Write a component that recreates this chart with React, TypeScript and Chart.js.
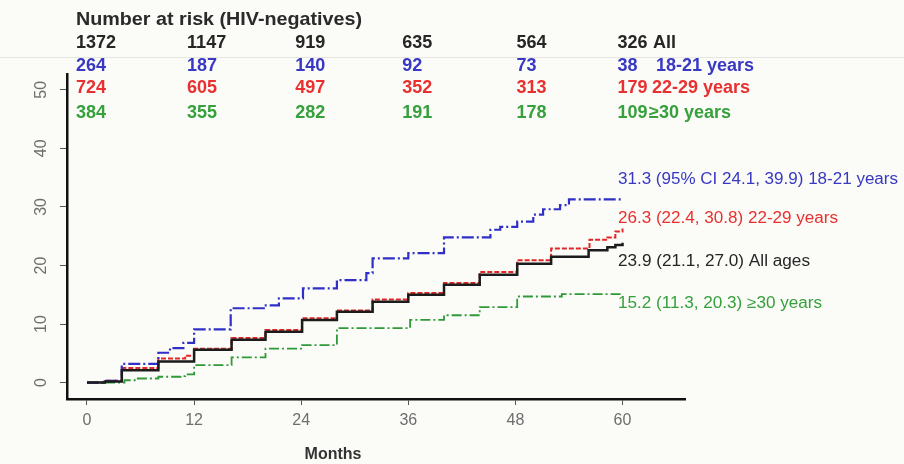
import React, { useEffect, useRef } from "react";
import { Chart, registerables } from "chart.js";

Chart.register(...registerables);

// ---- Data (cumulative incidence, %) ----
const allMonths = [0, 2, 3.9, 8, 12, 16.2, 20, 24.1, 28, 32, 36, 40, 44, 48.2, 52, 56.2, 58.3, 59.2, 60];
const allValues = [0, 0.2, 2.1, 3.6, 5.6, 7.3, 8.7, 10.7, 12.1, 13.8, 15.0, 16.7, 18.4, 20.3, 21.5, 22.6, 23.1, 23.5, 23.9];

const age18Months = [0, 1.8, 3.9, 8, 9.3, 10.8, 12, 16.1, 19.8, 21.5, 24.2, 28, 31.3, 32, 36, 40, 45.2, 46.3, 48.2, 50, 51.1, 53, 54, 60];
const age18Values = [0, 0.3, 3.2, 5.1, 5.9, 6.8, 9.1, 12.7, 13.2, 14.4, 16.1, 17.5, 18.7, 21.2, 22.1, 24.8, 26.1, 26.6, 27.5, 28.7, 29.6, 30.3, 31.3, 31.3];

const age22Months = [0, 2, 3.9, 8, 11, 12, 16.2, 20, 24.1, 28, 32, 36, 40, 44, 48.2, 52, 56.3, 58.3, 59.2, 60];
const age22Values = [0, 0.3, 2.5, 4.1, 4.6, 5.8, 7.6, 9.0, 11.0, 12.3, 14.2, 15.3, 17.0, 18.9, 20.9, 22.9, 24.4, 24.8, 25.8, 26.3];

const age30Months = [0, 4.2, 5.5, 8, 10.5, 11, 12, 16.2, 20, 24.1, 28, 36.2, 40, 44, 48.2, 53.2, 60];
const age30Values = [0, 0.4, 0.7, 1.0, 1.1, 1.4, 3.0, 4.3, 5.8, 6.4, 9.3, 10.7, 11.5, 12.9, 14.7, 15.1, 15.2];

const xTickValues = [0, 12, 24, 36, 48, 60];
const yTickValues = [0, 10, 20, 30, 40, 50];

// Number at risk table
const riskTitle = "Number at risk (HIV-negatives)";
const riskAll = [1372, 1147, 919, 635, 564, 326];
const risk18 = [264, 187, 140, 92, 73, 38];
const risk22 = [724, 605, 497, 352, 313, 179];
const risk30 = [384, 355, 282, 191, 178, 109];
const riskGroupLabels = ["All", "18-21 years", "22-29 years", "\u226530 years"];

// End-of-curve annotations
const endLabels = [
  "31.3 (95% CI 24.1, 39.9) 18-21 years",
  "26.3 (22.4, 30.8) 22-29 years",
  "23.9 (21.1, 27.0) All ages",
  "15.2 (11.3, 20.3) \u226530 years",
];
const xTitle = "Months";

// ---- Styles / layout ----
const COLORS = {
  all: "#1c1c1c",
  a18: "#3030c8",
  a22: "#e02828",
  a30: "#2f9a38",
};
const TEXT = {
  all: "#262626",
  a18: "#3838c4",
  a22: "#e83030",
  a30: "#36a03c",
};
const FONT = '"Liberation Sans", Arial, sans-serif';

const toPoints = (xs: number[], ys: number[]) => xs.map((x, i) => ({ x, y: ys[i] }));

function drawFitted(ctx: CanvasRenderingContext2D, text: string, x: number, y: number, font: string, color: string, width?: number) {
  ctx.save();
  ctx.font = font;
  ctx.fillStyle = color;
  ctx.textAlign = "left";
  ctx.textBaseline = "middle";
  const w = ctx.measureText(text).width;
  const sx = width ? width / w : 1;
  ctx.translate(x, y);
  ctx.scale(sx, 1);
  ctx.fillText(text, 0, 0);
  ctx.restore();
}

const overlayPlugin = {
  id: "overlay",
  beforeDraw(chart: any) {
    const ctx = chart.ctx as CanvasRenderingContext2D;
    ctx.save();
    ctx.fillStyle = "#fbfbf7";
    ctx.fillRect(0, 0, chart.width, chart.height);
    ctx.strokeStyle = "#e6e6e0";
    ctx.lineWidth = 1;
    ctx.beginPath();
    ctx.moveTo(0, 57.5);
    ctx.lineTo(chart.width, 57.5);
    ctx.stroke();
    ctx.restore();
  },
  afterDraw(chart: any) {
    const ctx = chart.ctx as CanvasRenderingContext2D;
    const xs = chart.scales.x;
    const ys = chart.scales.y;

    // rotated y tick labels
    ctx.save();
    ctx.fillStyle = "#6e6e6e";
    ctx.font = `16px ${FONT}`;
    ctx.textAlign = "center";
    ctx.textBaseline = "middle";
    yTickValues.forEach((v) => {
      const py = ys.getPixelForValue(v);
      ctx.save();
      ctx.translate(42, py);
      ctx.rotate(-Math.PI / 2);
      ctx.fillText(String(v), 0, 0);
      ctx.restore();
    });
    ctx.restore();

    // Number at risk table
    drawFitted(ctx, riskTitle, 76, 20, `bold 19px ${FONT}`, "#2a2a2a", 286);
    const colOffsets = [-11, -7, -6, -6, 1, -5];
    const rows = [
      { vals: riskAll, y: 43.5, color: TEXT.all },
      { vals: risk18, y: 66, color: TEXT.a18 },
      { vals: risk22, y: 88.5, color: TEXT.a22 },
      { vals: risk30, y: 113.5, color: TEXT.a30 },
    ];
    const groupX = [653, 656, 652, 649];
    rows.forEach((row, r) => {
      row.vals.forEach((v, i) => {
        const px = xs.getPixelForValue(xTickValues[i]) + colOffsets[i];
        drawFitted(ctx, String(v), px, row.y, `bold 18px ${FONT}`, row.color);
      });
      drawFitted(ctx, riskGroupLabels[r], groupX[r], row.y, `bold 18px ${FONT}`, row.color);
    });

    // End labels
    const endY = [180, 219, 262, 304];
    const endW = [280, 220, 192, 204];
    const endC = [TEXT.a18, TEXT.a22, TEXT.all, TEXT.a30];
    endLabels.forEach((t, i) => {
      drawFitted(ctx, t, 618, endY[i], `16px ${FONT}`, endC[i], endW[i]);
    });

    // x title
    ctx.save();
    ctx.font = `bold 16px ${FONT}`;
    ctx.fillStyle = "#333";
    ctx.textAlign = "center";
    ctx.textBaseline = "middle";
    ctx.fillText(xTitle, 333, 455);
    ctx.restore();
  },
};

export default function App() {
  const ref = useRef<HTMLCanvasElement>(null);
  useEffect(() => {
    const chart = new Chart(ref.current!, {
      type: "line",
      data: {
        datasets: [
          {
            label: "All ages",
            data: toPoints(allMonths, allValues),
            borderColor: COLORS.all,
            borderWidth: 2.5,
            stepped: true,
            pointRadius: 0,
            fill: false,
          },
          {
            label: "18-21 years",
            data: toPoints(age18Months, age18Values),
            borderColor: COLORS.a18,
            borderWidth: 2.2,
            borderDash: [12, 3, 2, 3],
            stepped: true,
            pointRadius: 0,
            fill: false,
          },
          {
            label: "22-29 years",
            data: toPoints(age22Months, age22Values),
            borderColor: COLORS.a22,
            borderWidth: 2,
            borderDash: [5, 2],
            stepped: true,
            pointRadius: 0,
            fill: false,
          },
          {
            label: "\u226530 years",
            data: toPoints(age30Months, age30Values),
            borderColor: COLORS.a30,
            borderWidth: 1.8,
            borderDash: [10, 3, 2, 3],
            stepped: true,
            pointRadius: 0,
            fill: false,
          },
        ],
      },
      options: {
        responsive: false,
        animation: false,
        devicePixelRatio: 1,
        layout: { padding: { left: 0, top: 74, right: 219, bottom: 0 } },
        plugins: { legend: { display: false }, tooltip: { enabled: false } },
        scales: {
          x: {
            type: "linear",
            min: -2.24,
            max: 67,
            afterBuildTicks: (s: any) => {
              s.ticks = xTickValues.map((v) => ({ value: v }));
            },
            afterFit: (s: any) => {
              s.height = 65;
            },
            border: { display: true, color: "#111", width: 2.5 },
            grid: { display: true, drawOnChartArea: false, drawTicks: true, tickLength: 6, color: "#555", lineWidth: 1 },
            ticks: { color: "#6e6e6e", font: { size: 16, family: FONT }, padding: 6, maxRotation: 0 },
          },
          y: {
            type: "linear",
            min: -2.8,
            max: 52.7,
            afterBuildTicks: (s: any) => {
              s.ticks = yTickValues.map((v) => ({ value: v }));
            },
            afterFit: (s: any) => {
              s.width = 67;
            },
            border: { display: true, color: "#111", width: 2.5 },
            grid: { display: true, drawOnChartArea: false, drawTicks: true, tickLength: 7, color: "#555", lineWidth: 1 },
            ticks: { display: false },
          },
        },
      },
      plugins: [overlayPlugin],
    } as any);
    return () => chart.destroy();
  }, []);
  return (
    <div style={{ position: "fixed", left: 0, top: 0, width: 904, height: 464, background: "#fbfbf7" }}>
      <canvas ref={ref} width={904} height={464} style={{ display: "block", width: 904, height: 464 }} />
    </div>
  );
}
